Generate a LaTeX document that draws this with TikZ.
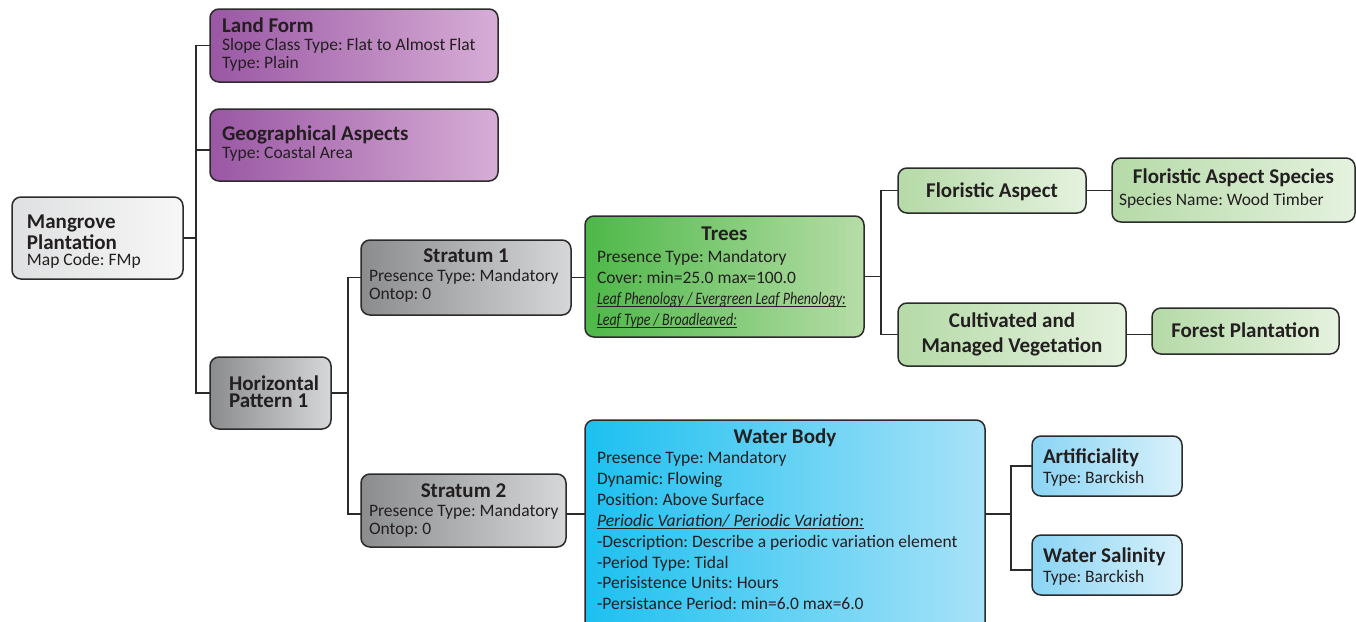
\documentclass[tikz,border=0pt]{standalone}
\usepackage{fontspec}
\setmainfont{Carlito}
\usepackage{graphicx}
\usetikzlibrary{calc}

\definecolor{edge}{HTML}{2B2B2B}
\definecolor{ink}{HTML}{231F20}
\definecolor{purpleL}{HTML}{9A57A4}
\definecolor{purpleR}{HTML}{D7ADD6}
\definecolor{greyL}{HTML}{8B8C8E}
\definecolor{greyR}{HTML}{D6D7D9}
\definecolor{paleL}{HTML}{DFE0E1}
\definecolor{paleR}{HTML}{F7F7F7}
\definecolor{treeL}{HTML}{4DB848}
\definecolor{treeR}{HTML}{B6DDA7}
\definecolor{mintL}{HTML}{B5DAA7}
\definecolor{mintR}{HTML}{E5F2DF}
\definecolor{waterL}{HTML}{1CC0F0}
\definecolor{waterR}{HTML}{A8E2F8}
\definecolor{skyL}{HTML}{8AD4F4}
\definecolor{skyR}{HTML}{D8F1FB}

% title and body type
\newcommand\ttl{\bfseries\fontsize{21}{21}\selectfont}
\newcommand\ttlfont[1]{\frenchspacing\bfseries\fontsize{21}{#1}\selectfont\lineskiplimit=-40pt\relax}
\newcommand\bodyfont[1]{\frenchspacing\fontsize{17.5}{#1}\selectfont\lineskiplimit=-40pt\relax}
% condensed, underlined italic line of a given width
\newcommand\ulc[2]{\leavevmode\rlap{\rule[-2.6pt]{#1}{0.8pt}}\resizebox{#1}{\height}{\itshape #2}}
% text block: width, alignment, lines
\newcommand\leftblock[2]{\parbox[t]{#1}{\raggedright #2}}
\newcommand\midblock[2]{\parbox[t]{#1}{\centering #2}}

\tikzset{
  % frame={left}{top}{right}{bottom}
  frame/.code n args={4}{%
    \pgfmathsetmacro\frW{#3-#1}%
    \pgfmathsetmacro\frH{#4-#2}%
    \edef\frKeys{anchor=north west, inner sep=0pt, outer sep=0pt,
      minimum width=\frW pt, minimum height=\frH pt, at={(#1,#2)}}%
    \expandafter\pgfkeysalso\expandafter{\frKeys}},
  card/.style={draw=edge, line width=1.5pt, rounded corners=9pt},
  txt/.style={anchor=base west, inner sep=0pt, outer sep=0pt, text=ink},
  link/.style={draw=edge, line width=1.5pt},
  pale/.style={left color=paleL, right color=paleR},
  purple/.style={left color=purpleL, right color=purpleR},
  grey/.style={left color=greyL, right color=greyR},
  tree/.style={left color=treeL, right color=treeR},
  mint/.style={left color=mintL, right color=mintR},
  water/.style={left color=waterL, right color=waterR},
  sky/.style={left color=skyL, right color=skyR},
}

\begin{document}
\begin{tikzpicture}[x=1pt, y=-1pt]
\useasboundingbox (0,0) rectangle (1356,621);
\fill[white] (0,0) rectangle (1356,621);
\clip (0,0) rectangle (1356,621);

% boxes
\node[card, pale,   frame={12}{197}{183}{279}]   (mangrove) {};
\node[card, purple, frame={210}{9}{498}{82}]     (landform) {};
\node[card, purple, frame={210}{109}{498}{181}]  (geo) {};
\node[card, grey,   frame={210}{357}{331}{429}]  (hp1) {};
\node[card, grey,   frame={361}{240}{571}{315}]  (stratum1) {};
\node[card, grey,   frame={361}{474}{566}{547}]  (stratum2) {};
\node[card, tree,   frame={585}{216}{864}{337}]  (trees) {};
\node[card, mint,   frame={898}{168}{1086}{213}] (floristic) {};
\node[card, mint,   frame={898}{303}{1126}{366}] (cultivated) {};
\node[card, mint,   frame={1112}{158}{1355}{222}] (fas) {};
\node[card, mint,   frame={1152}{308}{1339}{354}] (forest) {};
\node[card, water,  frame={585}{420}{985}{640}]  (water) {};
\node[card, sky,    frame={1032}{436}{1182}{496}] (artif) {};
\node[card, sky,    frame={1032}{535}{1182}{595}] (salin) {};

% texts, placed by the baseline of their first line
\node[txt, font=\bodyfont{16}] (mangrove-t) at (27,228)
  {\leftblock{150pt}{{\ttl Mangrove\\[2pt]Plantation}\\Map Code: FMp}};
\node[txt, font=\bodyfont{18}] (landform-t) at (222,32)
  {\leftblock{270pt}{{\ttl Land Form}\\Slope Class Type: Flat to Almost Flat\\Type: Plain}};
\node[txt, font=\bodyfont{18}] (geo-t) at (222,140)
  {\leftblock{270pt}{{\ttl Geographical Aspects}\\Type: Coastal Area}};
\node[txt, font=\ttlfont{17.5}] (hp1-t) at (229,390)
  {\leftblock{95pt}{Horizontal\\Pattern 1}};
\node[txt, font=\bodyfont{18}] (stratum1-t) at (369,262)
  {\leftblock{210pt}{\makebox[194pt]{\ttl Stratum 1}\\[1pt]Presence Type: Mandatory\\Ontop: 0}};
\node[txt, font=\bodyfont{18}] (stratum2-t) at (369,497)
  {\leftblock{210pt}{\makebox[189pt]{\ttl Stratum 2}\\[1pt]Presence Type: Mandatory\\Ontop: 0}};
\node[txt, font=\bodyfont{21}] (trees-t) at (597,240)
  {\leftblock{270pt}{\makebox[255pt]{\ttl Trees}\\[1pt]Presence Type: Mandatory\\
   Cover: min=25.0 max=100.0\\
   \ulc{249pt}{Leaf Phenology / Evergreen Leaf Phenology:}\\
   \ulc{140pt}{Leaf Type / Broadleaved:}}};
\node[txt, font=\ttlfont{21}] (floristic-t) at (906,197)
  {\midblock{172pt}{Floristic Aspect}};
\node[txt, font=\ttlfont{25}] (cultivated-t) at (906,327)
  {\midblock{212pt}{Cultivated and\\Managed Vegetation}};
\node[txt, font=\bodyfont{22}] (fas-t) at (1119,183)
  {\leftblock{235pt}{\makebox[229pt]{\ttl Floristic Aspect Species}\\Species Name: Wood Timber}};
\node[txt, font=\ttlfont{21}] (forest-t) at (1160,337)
  {\midblock{171pt}{Forest Plantation}};
\node[txt, font=\bodyfont{20.85}] (water-t) at (597,443)
  {\leftblock{390pt}{\makebox[376pt]{\ttl Water Body}\\Presence Type: Mandatory\\
   Dynamic: Flowing\\Position: Above Surface\\
   \ulc{267pt}{Periodic Variation/ Periodic Variation:}\\
   -Description: Describe a periodic variation element\\-Period Type: Tidal\\
   -Perisistence Units: Hours\\-Persistance Period: min=6.0 max=6.0}};
\node[txt, font=\bodyfont{20}] (artif-t) at (1043,463)
  {\leftblock{135pt}{{\ttl Artificiality}\\Type: Barckish}};
\node[txt, font=\bodyfont{20}] (salin-t) at (1043,562)
  {\leftblock{135pt}{{\ttl Water Salinity}\\Type: Barckish}};

% connectors
\coordinate (j0) at (196,238);
\coordinate (j1) at (348,393);
\coordinate (j2) at (881,276.5);
\coordinate (j3) at (1011,514);

\draw[link] (mangrove.east) -- (j0);
\draw[link] (landform.west) -| (j0) |- (hp1.west);
\draw[link] ([yshift=-5pt]geo.west) -- ([yshift=-5pt]geo.west -| j0);

\draw[link] (hp1.east) -- (j1);
\draw[link] (stratum1.west) -| (j1) |- ([yshift=-3.5pt]stratum2.west);
\draw[link] (stratum1.east) -- (stratum1.east -| trees.west);
\draw[link] ([yshift=-3.5pt]stratum2.east) -- ([yshift=-3.5pt]stratum2.east -| water.west);

\draw[link] (trees.east) -- (j2);
\draw[link] (floristic.west) -| (j2) |- (cultivated.west);
\draw[link] (floristic.east) -- (floristic.east -| fas.west);
\draw[link] (cultivated.east) -- (cultivated.east -| forest.west);

\draw[link] (j3 -| water.east) -- (j3);
\draw[link] (artif.west) -| (j3) |- ([yshift=-5pt]salin.west);
\end{tikzpicture}
\end{document}
